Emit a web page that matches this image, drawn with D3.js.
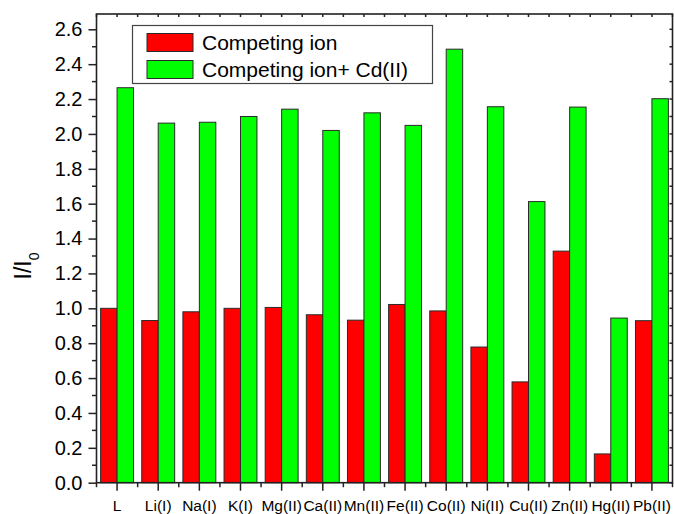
<!DOCTYPE html>
<html>
<head>
<meta charset="utf-8">
<script src="https://cdn.jsdelivr.net/npm/d3@7/dist/d3.min.js"></script>
<style>
  html, body { margin: 0; padding: 0; background: #fff; }
  svg { display: block; font-family: "Liberation Sans", Arial, sans-serif; }
</style>
</head>
<body>
<svg id="chart" width="674" height="514"></svg>
<script>
// Ions tested and the relative intensity I/I0 for each
const categories = ["L", "Li(I)", "Na(I)", "K(I)", "Mg(II)", "Ca(II)", "Mn(II)",
  "Fe(II)", "Co(II)", "Ni(II)", "Cu(II)", "Zn(II)", "Hg(II)", "Pb(II)"];
const competingIon = [1.00, 0.93, 0.98, 1.00, 1.005, 0.963, 0.932,
  1.022, 0.985, 0.778, 0.578, 1.328, 0.165, 0.929];
const competingIonCd = [2.265, 2.062, 2.067, 2.100, 2.142, 2.020, 2.121,
  2.049, 2.486, 2.156, 1.612, 2.154, 0.944, 2.202];
const seriesNames = ["Competing ion", "Competing ion+ Cd(II)"];
const yTicks = [0, 0.2, 0.4, 0.6, 0.8, 1.0, 1.2, 1.4, 1.6, 1.8, 2.0, 2.2, 2.4, 2.6];
const yMinorTicks = d3.range(0, 27).map(i => i / 10);

const colors = ["#ff0000", "#00ff00"];
const svg = d3.select("#chart");

const plotLeft = 96.5, plotRight = 672.5, plotTop = 14, plotBottom = 482.7;

const x = d3.scaleBand().domain(categories).range([plotLeft, plotRight])
  .paddingInner(0.2).paddingOuter(0.1);
const step = x.step();
const y = d3.scaleLinear().domain([0, 2.6]).range([plotBottom, 29.3]);

// bars
const barW = x.bandwidth() / 2;
const series = [competingIon, competingIonCd];
series.forEach((vals, s) => {
  svg.append("g").selectAll("rect").data(categories).join("rect")
    .attr("x", d => x(d) + s * barW)
    .attr("y", (d, i) => y(vals[i]))
    .attr("width", barW)
    .attr("height", (d, i) => plotBottom - y(vals[i]))
    .attr("fill", colors[s])
    .attr("stroke", "#2a2a2a")
    .attr("stroke-width", 1);
});

// frame
const frameColor = "#222";
svg.append("rect")
  .attr("x", plotLeft).attr("y", plotTop)
  .attr("width", plotRight - plotLeft).attr("height", plotBottom - plotTop)
  .attr("fill", "none").attr("stroke", frameColor).attr("stroke-width", 1.6);

// left axis: major ticks with labels, minor ticks
const yAxis = d3.axisLeft(y).tickValues(yTicks).tickSize(8).tickPadding(6)
  .tickFormat(d3.format(".1f"));
const gy = svg.append("g").attr("transform", `translate(${plotLeft},0)`).call(yAxis);
gy.select(".domain").remove();
gy.selectAll(".tick line").attr("stroke", frameColor).attr("stroke-width", 1.5);
gy.selectAll(".tick text").attr("font-size", 20).attr("fill", "#000")
  .attr("font-family", "Liberation Sans, Arial, sans-serif");

const minorOnly = yMinorTicks.filter(v => !yTicks.some(t => Math.abs(t - v) < 1e-6));
svg.append("g").selectAll("line").data(minorOnly).join("line")
  .attr("x1", plotLeft - 4.5).attr("x2", plotLeft)
  .attr("y1", d => y(d)).attr("y2", d => y(d))
  .attr("stroke", frameColor).attr("stroke-width", 1.5);

// right axis: small inward ticks every 0.1
svg.append("g").selectAll("line").data(yMinorTicks).join("line")
  .attr("x1", plotRight - 3).attr("x2", plotRight)
  .attr("y1", d => y(d)).attr("y2", d => y(d))
  .attr("stroke", frameColor).attr("stroke-width", 1.5);

// bottom axis: major ticks at category centres, minor at boundaries
const xAxis = d3.axisBottom(x).tickSize(8).tickPadding(9);
const gx = svg.append("g").attr("transform", `translate(0,${plotBottom})`).call(xAxis);
gx.select(".domain").remove();
gx.selectAll(".tick line").attr("stroke", frameColor).attr("stroke-width", 1.5);
gx.selectAll(".tick text").attr("font-size", 15.5).attr("fill", "#000")
  .attr("font-family", "Liberation Sans, Arial, sans-serif");

const boundaries = d3.range(categories.length + 1).map(i => plotLeft + i * step);
svg.append("g").selectAll("line").data(boundaries).join("line")
  .attr("x1", d => d).attr("x2", d => d)
  .attr("y1", plotBottom).attr("y2", plotBottom + 4.5)
  .attr("stroke", frameColor).attr("stroke-width", 1.5);

// top axis: small inward ticks at centres and boundaries
const topTicks = boundaries.concat(categories.map(c => x(c) + x.bandwidth() / 2));
svg.append("g").selectAll("line").data(topTicks).join("line")
  .attr("x1", d => d).attr("x2", d => d)
  .attr("y1", plotTop).attr("y2", plotTop + 3)
  .attr("stroke", frameColor).attr("stroke-width", 1.5);

// y axis title I/I0
const yt = svg.append("text")
  .attr("transform", `translate(31,266) rotate(-90)`)
  .attr("text-anchor", "middle")
  .attr("font-size", 23).attr("fill", "#000");
yt.append("tspan").text("I/I");
yt.append("tspan").text("0").attr("font-size", 14).attr("dy", 8);

// legend
const lg = svg.append("g");
lg.append("rect").attr("x", 132.5).attr("y", 25.5).attr("width", 300).attr("height", 58)
  .attr("fill", "#fff").attr("stroke", "#444").attr("stroke-width", 1.2);
seriesNames.forEach((name, i) => {
  const yy = 33.5 + i * 27;
  lg.append("rect").attr("x", 147).attr("y", yy).attr("width", 46).attr("height", 18)
    .attr("fill", colors[i]).attr("stroke", "#2a2a2a").attr("stroke-width", 1);
  lg.append("text").attr("x", 202).attr("y", yy + 16.5)
    .attr("font-size", 21).attr("fill", "#000").text(name);
});
</script>
</body>
</html>
